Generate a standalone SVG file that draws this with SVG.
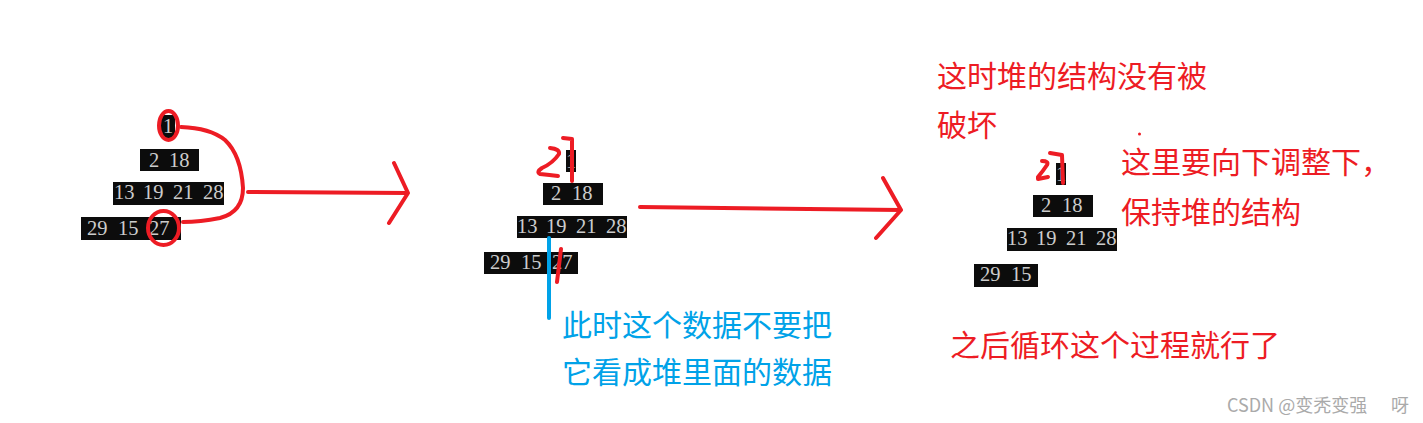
<svg xmlns="http://www.w3.org/2000/svg" width="1423" height="423" viewBox="0 0 1423 423">
<style>
.box{fill:#0c0c0c}
.num{font-family:"Liberation Serif",serif;font-size:20.5px;fill:#cccccc}
.red{fill:none;stroke:#ED1C24;stroke-width:4;stroke-linecap:round;stroke-linejoin:round}
.blue{fill:none;stroke:#00A2E8;stroke-width:4;stroke-linecap:round}
.rt{font-family:"Noto Sans CJK SC","Noto Sans",sans-serif;font-size:30px;fill:#ED1C24}
.bt{font-family:"Noto Sans CJK SC","Noto Sans",sans-serif;font-size:30px;fill:#00A2E8}
.wm{font-family:"Noto Sans CJK SC","Noto Sans",sans-serif;font-size:18px;fill:#aaaaaa}
</style>
<rect width="1423" height="423" fill="#ffffff"/>

<!-- Heap 1 -->
<g id="heap1">
  <rect class="box" x="161" y="115" width="14" height="23"/>
  <text class="num" x="163" y="133">1</text>
  <rect class="box" x="140" y="149" width="59" height="22"/>
  <text class="num" x="149" y="167">2</text><text class="num" x="169" y="167">18</text>
  <rect class="box" x="113" y="182" width="111" height="23"/>
  <text class="num" x="114" y="199">13</text><text class="num" x="143" y="199">19</text><text class="num" x="173" y="199">21</text><text class="num" x="203" y="199">28</text>
  <rect class="box" x="81" y="217" width="100" height="23"/>
  <text class="num" x="87" y="235">29</text><text class="num" x="118" y="235">15</text><text class="num" x="149" y="235">27</text>
  <ellipse class="red" cx="168.5" cy="125.5" rx="9.5" ry="14.5"/>
  <ellipse class="red" cx="163.5" cy="228" rx="15.5" ry="17"/>
</g>

<!-- Heap 2 -->
<g id="heap2">
  <rect class="box" x="566" y="150" width="10" height="22"/>
  <text class="num" x="566" y="168">1</text>
  <rect class="box" x="543" y="183" width="60" height="22"/>
  <text class="num" x="551" y="200">2</text><text class="num" x="572" y="200">18</text>
  <rect class="box" x="517" y="216" width="110" height="22"/>
  <text class="num" x="517" y="233">13</text><text class="num" x="546" y="233">19</text><text class="num" x="576" y="233">21</text><text class="num" x="606" y="233">28</text>
  <rect class="box" x="484" y="252" width="94" height="22"/>
  <text class="num" x="490" y="269">29</text><text class="num" x="521" y="269">15</text><text class="num" x="552" y="269">27</text>
  <path class="red" d="M550,148 Q560,149 559,154 Q553,163 542,168 Q536,172 540,174 Q550,175 558,176"/>
  <path class="red" d="M563,138 L572,139 L572,181"/>
  <path class="red" d="M561,249 L557,282"/>
</g>

<!-- Heap 3 -->
<g id="heap3">
  <rect class="box" x="1056" y="163" width="10" height="22"/>
  <text class="num" x="1056" y="181">1</text>
  <rect class="box" x="1033" y="195" width="60" height="22"/>
  <text class="num" x="1041" y="212">2</text><text class="num" x="1062" y="212">18</text>
  <rect class="box" x="1007" y="228" width="110" height="23"/>
  <text class="num" x="1007" y="245">13</text><text class="num" x="1036" y="245">19</text><text class="num" x="1066" y="245">21</text><text class="num" x="1096" y="245">28</text>
  <rect class="box" x="974" y="264" width="64" height="23"/>
  <text class="num" x="980" y="281">29</text><text class="num" x="1011" y="281">15</text>
  <path class="red" d="M1042,161 Q1049,161 1047,165 Q1043,171 1038,177 L1038,179 L1048,177"/>
  <path class="red" d="M1050,153 L1062,155 L1063,183"/>
</g>

<!-- Connectors -->
<g id="connectors">
  <path class="red" d="M181,127 Q210,128 225,140 Q241,155 243,188 Q243,212 220,218 Q200,222 183,222"/>
  <path class="red" d="M248,192 L408,193 M394,163 L408,193 L389,223"/>
  <path class="red" d="M640,207 L901,210 M883,178 L901,210 L876,238"/>
  <path class="blue" d="M549,238 L549,318"/>
  <circle cx="1139.5" cy="134" r="1.5" fill="#ED1C24"/>
</g>

<!-- Labels -->
<g id="labels">
  <text class="rt" x="937" y="87">这时堆的结构没有被</text>
  <text class="rt" x="937" y="136">破坏</text>
  <text class="rt" x="1121" y="173">这里要向下调整下，</text>
  <text class="rt" x="1121" y="223">保持堆的结构</text>
  <text class="rt" x="950" y="356">之后循环这个过程就行了</text>
  <text class="bt" x="562" y="336">此时这个数据不要把</text>
  <text class="bt" x="562" y="383">它看成堆里面的数据</text>
  <text class="wm" x="1227" y="412">CSDN @变秃变强</text>
  <text class="wm" x="1391" y="412">呀</text>
</g>
</svg>
